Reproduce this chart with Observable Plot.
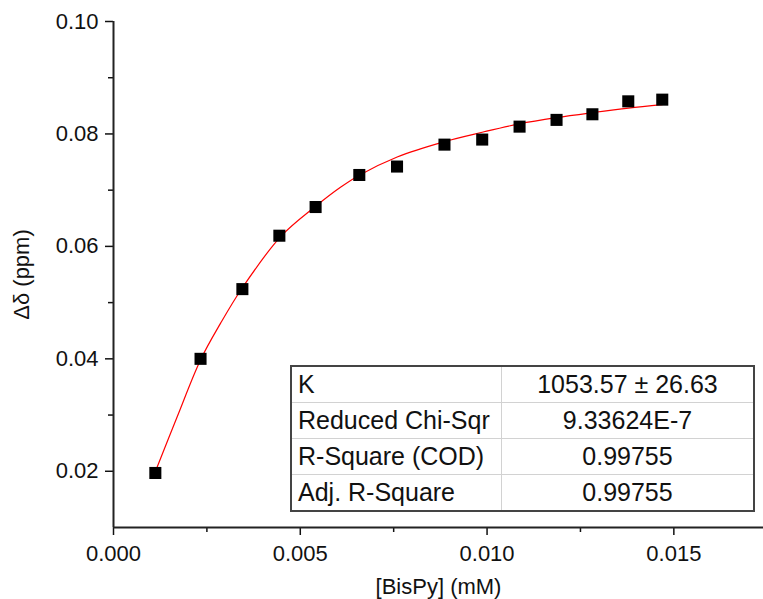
<!DOCTYPE html>
<html>
<head>
<meta charset="utf-8">
<script src="https://cdn.jsdelivr.net/npm/d3@7"></script>
<script src="https://cdn.jsdelivr.net/npm/@observablehq/plot@0.6"></script>
<style>
  html, body { margin: 0; padding: 0; background: #fff; }
  #wrap { position: relative; width: 763px; height: 599px; overflow: hidden; font-family: "Liberation Sans", Arial, sans-serif; }
  #fit { position: absolute; left: 290px; top: 365px; border-collapse: collapse; border: 2px solid #444; font-size: 25px; color: #111; }
  #fit td { border: 1.5px solid #d2d2d2; height: 35px; padding: 0; line-height: 1; }
  #fit td.lab { width: 203px; padding-left: 6px; text-align: left; }
  #fit td.val { width: 251px; text-align: center; }
</style>
</head>
<body>
<div id="wrap"></div>
<script>
// Measured points
const concX = [0.00112, 0.00233, 0.00345, 0.00444, 0.00541, 0.00658, 0.00759, 0.00886, 0.00987, 0.01087, 0.01186, 0.01282, 0.01378, 0.01469];
const deltaY = [0.0197, 0.0400, 0.0524, 0.0619, 0.0670, 0.0727, 0.0742, 0.0781, 0.0790, 0.0813, 0.0825, 0.0835, 0.0858, 0.0861];

// Fitted curve
const fitX = [0.001124, 0.001705, 0.002329, 0.002864, 0.003445, 0.004470, 0.005407, 0.006076, 0.006592, 0.007594, 0.008841, 0.009869, 0.010867, 0.011850, 0.012829, 0.013785, 0.014687];
const fitY = [0.0200, 0.0297, 0.0398, 0.0463, 0.0526, 0.0617, 0.0671, 0.0705, 0.0727, 0.0759, 0.0786, 0.0803, 0.0818, 0.0829, 0.0838, 0.0846, 0.0852];

// Tick values
const xTicks = [0, 0.005, 0.010, 0.015];
const xMinor = [0.0025, 0.0075, 0.0125];
const yTicks = [0.02, 0.04, 0.06, 0.08, 0.10];
const yMinor = [0.03, 0.05, 0.07, 0.09];

// Fit result table
const tableLabels = ["K", "Reduced Chi-Sqr", "R-Square (COD)", "Adj. R-Square"];
const tableValues = ["1053.57 \u00b1 26.63", "9.33624E-7", "0.99755", "0.99755"];

const points = concX.map((x, i) => ({x, y: deltaY[i]}));
const fit = fitX.map((x, i) => ({x, y: fitY[i]}));

const chart = Plot.plot({
  width: 763,
  height: 599,
  marginLeft: 113,
  marginRight: 0,
  marginTop: 21,
  marginBottom: 72,
  style: {fontFamily: "'Liberation Sans', Arial, sans-serif", fontSize: "19px", background: "#fff", color: "#111", overflow: "visible"},
  x: {domain: [0, 0.0174]},
  y: {domain: [0.01, 0.10]},
  marks: [
    Plot.axisX({ticks: xTicks, tickSize: 8, tickPadding: 10, tickFormat: d3.format(".3f"), strokeWidth: 1.5,
      label: "[BisPy] (mM)", labelAnchor: "center", labelArrow: "none", labelOffset: 66, fontSize: 22}),
    Plot.axisX({ticks: xMinor, tickSize: 5, text: null, strokeWidth: 1.5, label: null}),
    Plot.axisY({ticks: yTicks, tickSize: 8, tickPadding: 7, tickFormat: d3.format(".2f"), strokeWidth: 1.5,
      label: "\u0394\u03b4 (ppm)", labelAnchor: "center", labelArrow: "none", labelOffset: 100, fontSize: 22}),
    Plot.axisY({ticks: yMinor, tickSize: 5, text: null, strokeWidth: 1.5, label: null}),
    Plot.ruleY([0.01], {stroke: "#222", strokeWidth: 2}),
    Plot.ruleX([0], {stroke: "#222", strokeWidth: 2}),
    Plot.line(fit, {x: "x", y: "y", stroke: "#ff0000", strokeWidth: 1.2, curve: "catmull-rom"}),
    Plot.dot(points, {x: "x", y: "y", symbol: "square", r: 6.8, fill: "#000", stroke: "none"})
  ]
});

const wrap = document.getElementById("wrap");
wrap.appendChild(chart);

const table = document.createElement("table");
table.id = "fit";
tableLabels.forEach((lab, i) => {
  const tr = document.createElement("tr");
  const td1 = document.createElement("td");
  td1.className = "lab";
  td1.textContent = lab;
  const td2 = document.createElement("td");
  td2.className = "val";
  td2.textContent = tableValues[i];
  tr.appendChild(td1);
  tr.appendChild(td2);
  table.appendChild(tr);
});
wrap.appendChild(table);
</script>
</body>
</html>
